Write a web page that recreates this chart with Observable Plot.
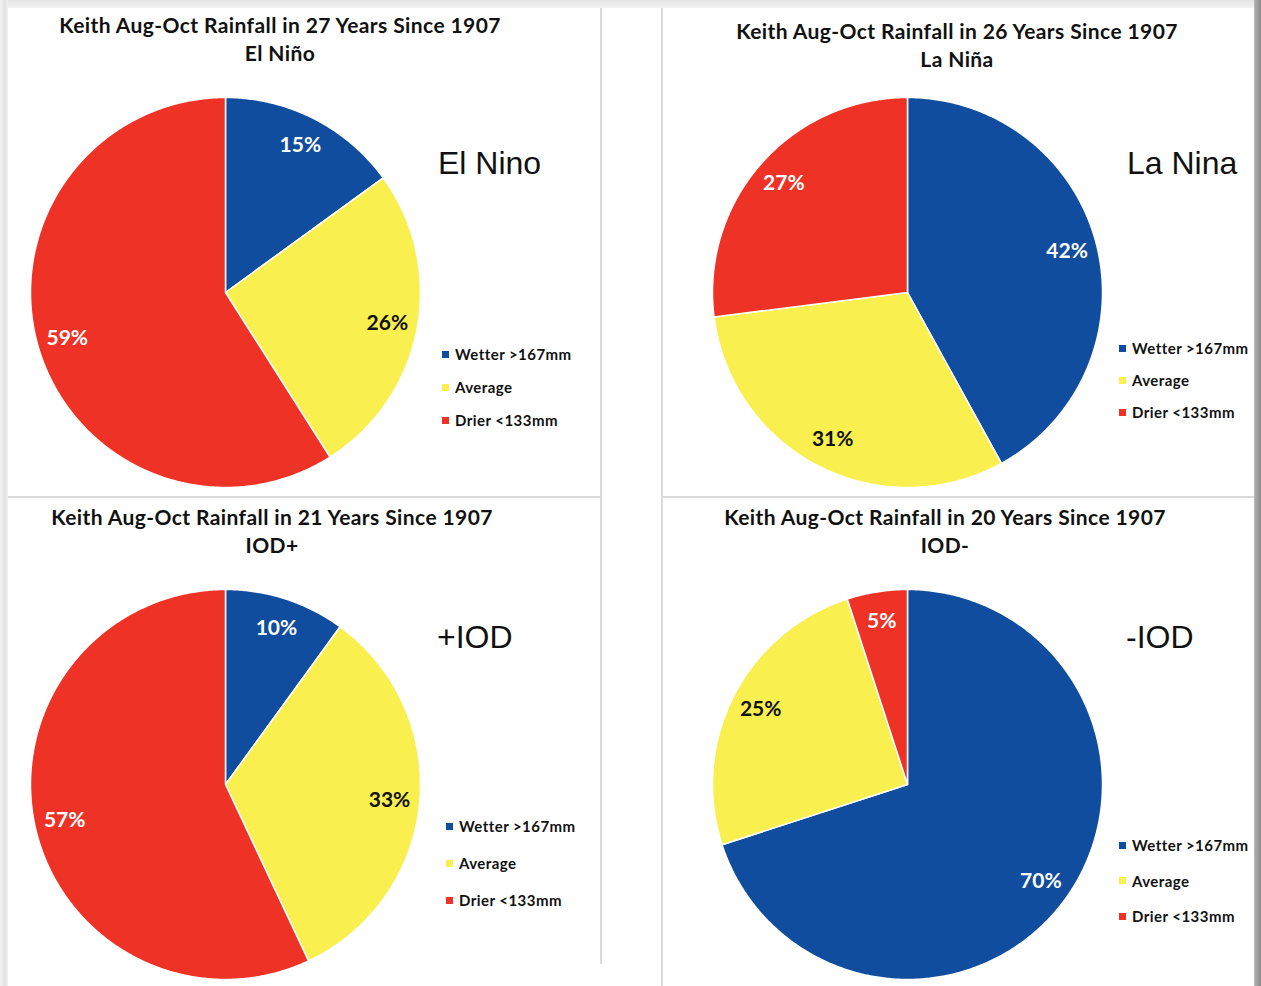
<!DOCTYPE html>
<html>
<head>
<meta charset="utf-8">
<script src="https://cdn.jsdelivr.net/npm/d3@7"></script>
<script src="https://cdn.jsdelivr.net/npm/@observablehq/plot@0.6"></script>
<style>
  html, body { margin: 0; padding: 0; background: #fff; }
  #page { position: relative; width: 1261px; height: 986px; overflow: hidden; background: #fff; }
  .band { position: absolute; }
  .sep { position: absolute; background: #dadada; }
  .title { position: absolute; font-family: Lato, "Open Sans", sans-serif; font-weight: 700; font-size: 21px; letter-spacing: 0.4px; color: #111; text-align: center; white-space: nowrap; line-height: 28px; transform: translateX(-50%); }
  .big { position: absolute; font-family: "Liberation Sans", Arial, sans-serif; font-size: 32px; color: #111; white-space: nowrap; }
  .legend { position: absolute; font-family: Lato, "Open Sans", sans-serif; font-weight: 700; font-size: 15px; letter-spacing: 0.45px; color: #111; white-space: nowrap; }
  .legend .row { position: absolute; left: 0; display: flex; align-items: center; transform: translateY(-50%); }
  .legend .sw { width: 7px; height: 7px; margin-right: 6px; }
  .pie { position: absolute; }
</style>
</head>
<body>
<div id="page">
  <div class="band" style="left:0;top:0;width:1261px;height:8px;background:linear-gradient(#e4e4e4,#f2f2f2);"></div>
  <div class="band" style="left:0;top:0;width:8px;height:986px;background:linear-gradient(90deg,#f4f4f4,#e2e2e2 60%,#f0f0f0);"></div>
  <div class="band" style="left:1254px;top:0;width:7px;height:986px;background:linear-gradient(90deg,#b5b5b5,#8a8a8a);"></div>
  <div class="sep" style="left:600px;top:8px;width:2px;height:956px;"></div>
  <div class="sep" style="left:661px;top:8px;width:2px;height:978px;"></div>
  <div class="sep" style="left:8px;top:496px;width:593px;height:2px;"></div>
  <div class="sep" style="left:662px;top:496px;width:592px;height:2px;"></div>
</div>
<script>
// ---- data ----
const categories = ["Wetter >167mm", "Average", "Drier <133mm"];
const sliceColors = ["#114d9e", "#f9ef4f", "#ee3226"];
const labelColors = ["white", "black", "white"];

const titles = [
  "Keith Aug-Oct Rainfall in 27 Years Since 1907",
  "Keith Aug-Oct Rainfall in 26 Years Since 1907",
  "Keith Aug-Oct Rainfall in 21 Years Since 1907",
  "Keith Aug-Oct Rainfall in 20 Years Since 1907"
];
const subtitles = ["El Niño", "La Niña", "IOD+", "IOD-"];
const bigLabels = ["El Nino", "La Nina", "+IOD", "-IOD"];

const elNinoPct = [15, 26, 59];
const laNinaPct = [42, 31, 27];
const iodPosPct = [10, 33, 57];
const iodNegPct = [70, 25, 5];
const seriesValues = [elNinoPct, laNinaPct, iodPosPct, iodNegPct];

// ---- layout (page pixels) ----
const R = 195;
const layout = [
  {cx: 225, cy: 292, title: [280, 11], big: [438, 145], legend: [442, 354, 33]},
  {cx: 907, cy: 292, title: [957, 17], big: [1127, 145], legend: [1119, 348, 32]},
  {cx: 225, cy: 784, title: [272, 503], big: [437, 619], legend: [446, 826, 37]},
  {cx: 907, cy: 784, title: [945, 503], big: [1126, 619], legend: [1119, 845, 35.5]}
];

const page = document.getElementById("page");

seriesValues.forEach((values, i) => {
  const L = layout[i];
  const arcs = d3.pie().sort(null).value(d => d)(values);
  const pts = [];
  const labels = [];
  arcs.forEach((a, k) => {
    const cat = categories[k];
    pts.push({x: 0, y: 0, cat});
    const n = Math.max(2, Math.ceil((a.endAngle - a.startAngle) / (Math.PI / 360)));
    for (let j = 0; j <= n; j++) {
      const t = a.startAngle + (a.endAngle - a.startAngle) * j / n;
      pts.push({x: Math.sin(t), y: Math.cos(t), cat});
    }
    pts.push({x: 0, y: 0, cat});
    const mid = (a.startAngle + a.endAngle) / 2;
    labels.push({x: 0.845 * Math.sin(mid), y: 0.845 * Math.cos(mid), text: values[k] + "%", color: labelColors[k]});
  });

  const size = 2 * R + 10;
  const chart = Plot.plot({
    width: size,
    height: size,
    margin: 5,
    x: {domain: [-1, 1], axis: null},
    y: {domain: [-1, 1], axis: null},
    color: {domain: categories, range: sliceColors},
    style: {background: "transparent", overflow: "visible"},
    marks: [
      Plot.line(pts, {x: "x", y: "y", z: "cat", fill: "cat", stroke: "white", strokeWidth: 1.5, curve: "linear", strokeLinejoin: "round"}),
      Plot.text(labels.filter(d => d.color === "white"), {x: "x", y: "y", text: "text", fill: "white", fontSize: 21, fontWeight: "bold", fontFamily: "Lato, 'Open Sans', sans-serif"}),
      Plot.text(labels.filter(d => d.color === "black"), {x: "x", y: "y", text: "text", fill: "#111", fontSize: 21, fontWeight: "bold", fontFamily: "Lato, 'Open Sans', sans-serif"})
    ]
  });
  const wrap = document.createElement("div");
  wrap.className = "pie";
  wrap.style.left = (L.cx - size / 2) + "px";
  wrap.style.top = (L.cy - size / 2) + "px";
  wrap.appendChild(chart);
  page.appendChild(wrap);

  const t = document.createElement("div");
  t.className = "title";
  t.style.left = L.title[0] + "px";
  t.style.top = L.title[1] + "px";
  t.innerHTML = titles[i] + "<br>" + subtitles[i];
  page.appendChild(t);

  const b = document.createElement("div");
  b.className = "big";
  b.style.left = L.big[0] + "px";
  b.style.top = L.big[1] + "px";
  b.textContent = bigLabels[i];
  page.appendChild(b);

  const lg = document.createElement("div");
  lg.className = "legend";
  lg.style.left = L.legend[0] + "px";
  lg.style.top = L.legend[1] + "px";
  categories.forEach((c, k) => {
    const row = document.createElement("div");
    row.className = "row";
    row.style.top = (k * L.legend[2]) + "px";
    const sw = document.createElement("span");
    sw.className = "sw";
    sw.style.background = sliceColors[k];
    const tx = document.createElement("span");
    tx.textContent = c;
    row.appendChild(sw);
    row.appendChild(tx);
    lg.appendChild(row);
  });
  page.appendChild(lg);
});
</script>
</body>
</html>
